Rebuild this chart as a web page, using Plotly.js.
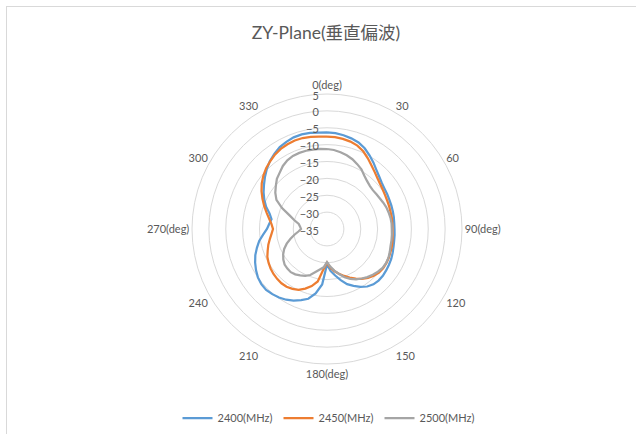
<!DOCTYPE html>
<html>
<head>
<meta charset="utf-8">
<script src="https://cdn.plot.ly/plotly-3.0.1.min.js"></script>
<style>
  html, body { margin: 0; padding: 0; background: #ffffff; }
  #wrap { position: relative; width: 636px; height: 434px; overflow: hidden; }
  #chart { width: 636px; height: 434px; }
  #frame { position: absolute; left: 6px; top: 6px; width: 660px; height: 460px;
           border: 1px solid #d9d9d9; pointer-events: none; }
</style>
</head>
<body>
<div id="wrap"><div id="chart"></div><div id="frame"></div></div>
<script>
const titleText = "ZY-Plane(垂直偏波)";
const seriesNames = ["2400(MHz)", "2450(MHz)", "2500(MHz)"];
const seriesColors = ["#5B9BD5", "#ED7D31", "#A5A5A5"];

const angleTickVals = [0, 30, 60, 90, 120, 150, 180, 210, 240, 270, 300, 330];
const angleTickText = ["0(deg)", "30", "60", "90(deg)", "120", "150", "180(deg)", "210", "240", "270(deg)", "300", "330"];
const radialTickVals = [-35, -30, -25, -20, -15, -10, -5, 0, 5];

const theta = [0,5,10,15,20,25,30,35,40,45,50,55,60,65,70,75,80,85,90,95,100,105,110,115,120,125,130,135,140,145,150,155,160,165,170,175,180,185,190,195,200,205,210,215,220,225,230,235,240,245,250,255,260,265,270,275,280,285,290,295,300,305,310,315,320,325,330,335,340,345,350,355];

const r2400 = [-6.4,-6.5,-6.8,-7.2,-7.7,-8.6,-9.8,-11.0,-12.2,-13.1,-13.8,-14.2,-14.4,-14.6,-14.7,-14.8,-14.9,-15.0,-15.0,-14.9,-14.8,-14.6,-14.3,-14.0,-13.8,-13.6,-13.4,-13.4,-13.6,-14.2,-15.2,-16.4,-17.6,-19.3,-21.0,-22.5,-24.5,-18.5,-15.6,-13.6,-12.6,-11.6,-10.8,-10.2,-9.8,-9.5,-9.6,-10.0,-10.7,-11.5,-12.4,-13.5,-14.6,-16.0,-17.2,-17.8,-18.3,-17.4,-15.8,-14.5,-13.3,-12.2,-11.0,-9.8,-8.7,-7.8,-7.0,-6.5,-6.1,-6.0,-6.1,-6.3];

const r2450 = [-7.6,-7.7,-7.9,-8.2,-8.7,-9.6,-10.8,-12.0,-13.0,-13.8,-14.4,-14.8,-15.1,-15.3,-15.4,-15.5,-15.5,-15.6,-15.6,-15.5,-15.3,-15.1,-15.0,-14.8,-14.7,-14.7,-14.9,-15.4,-16.1,-17.0,-18.0,-19.1,-20.2,-21.3,-22.3,-23.5,-25.0,-23.0,-19.2,-17.5,-16.2,-15.1,-14.5,-14.1,-14.0,-14.1,-14.3,-14.6,-15.0,-15.5,-16.3,-17.0,-17.8,-18.5,-19.0,-18.5,-17.6,-16.5,-15.2,-13.9,-12.6,-11.4,-10.4,-9.5,-8.8,-8.1,-7.6,-7.3,-7.1,-7.1,-7.3,-7.5];

const r2500 = [-11.3,-11.5,-11.9,-12.4,-13.0,-13.8,-14.6,-15.7,-16.5,-17.0,-17.2,-17.1,-16.9,-16.6,-16.3,-16.1,-15.9,-15.8,-15.8,-15.7,-15.6,-15.5,-15.2,-14.9,-14.8,-14.9,-15.3,-15.8,-16.4,-17.1,-17.8,-18.7,-19.8,-21.2,-22.5,-23.8,-25.2,-23.6,-22.8,-21.8,-20.5,-19.7,-19.1,-18.6,-18.3,-18.4,-18.6,-19.2,-20.0,-21.0,-22.3,-23.8,-25.2,-26.5,-27.3,-27.0,-26.5,-25.0,-23.2,-20.3,-17.7,-16.3,-15.2,-14.0,-13.2,-12.2,-11.5,-11.1,-11.0,-11.0,-11.1,-11.2];

const seriesValues = [r2400, r2450, r2500];

const traces = seriesValues.map((vals, i) => ({
  type: "scatterpolar",
  mode: "lines",
  name: seriesNames[i],
  theta: theta.concat([360]),
  r: vals.concat([vals[0]]),
  line: { color: seriesColors[i], width: 2.25 },
  hoverinfo: "skip"
}));

const W = 636, H = 434;
const cx = 327, cy = 229, R = 135;

const layout = {
  width: W, height: H,
  margin: { l: 0, r: 0, t: 0, b: 0 },
  paper_bgcolor: "#ffffff",
  font: { family: "Lato, 'Noto Sans CJK JP', sans-serif", color: "#595959", size: 11 },
  title: {
    text: titleText,
    x: 326 / W, xanchor: "center",
    y: 1 - 33 / H, yanchor: "middle",
    font: { size: 17.5, color: "#595959", family: "Lato, 'Noto Sans CJK JP', sans-serif" }
  },
  showlegend: true,
  legend: {
    orientation: "h",
    x: 329 / W, xanchor: "center",
    y: (H - 418) / H, yanchor: "middle",
    font: { size: 11, color: "#595959" },
    entrywidth: 56, entrywidthmode: "pixels",
    itemwidth: 30,
    bgcolor: "rgba(0,0,0,0)"
  },
  polar: {
    domain: { x: [(cx - R) / W, (cx + R) / W], y: [(H - cy - R) / H, (H - cy + R) / H] },
    bgcolor: "#ffffff",
    radialaxis: {
      range: [-35, 5],
      tickmode: "array",
      tickvals: radialTickVals,
      angle: 90,
      side: "counterclockwise",
      showline: false,
      ticks: "",
      gridcolor: "#d9d9d9",
      gridwidth: 1,
      tickfont: { size: 11, color: "#595959" }
    },
    angularaxis: {
      rotation: 90,
      direction: "clockwise",
      tickmode: "array",
      tickvals: angleTickVals,
      ticktext: angleTickText,
      showgrid: false,
      showline: true,
      linecolor: "#d9d9d9",
      linewidth: 1,
      ticks: "",
      tickfont: { size: 11, color: "#595959" }
    }
  }
};

Plotly.newPlot("chart", traces, layout, { staticPlot: true, displayModeBar: false });
</script>
</body>
</html>
